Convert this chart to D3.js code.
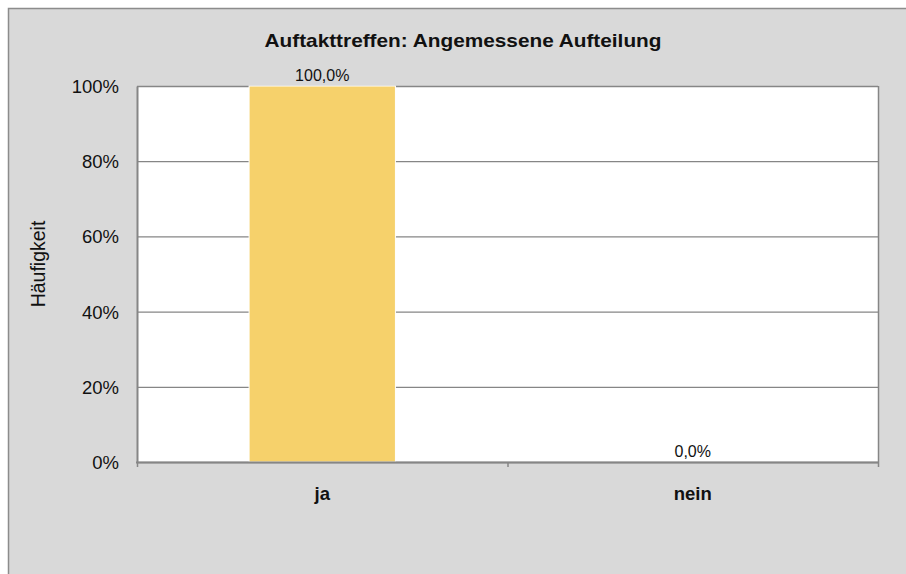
<!DOCTYPE html>
<html>
<head>
<meta charset="utf-8">
<script src="https://cdn.jsdelivr.net/npm/d3@7"></script>
<style>
  body { margin: 0; background: #fff; }
  svg { display: block; font-family: "Liberation Sans", Arial, sans-serif; }
</style>
</head>
<body>
<svg id="chart" width="906" height="574"></svg>
<script>
var title = "Auftakttreffen: Angemessene Aufteilung"
var yTitle = "Häufigkeit"
var categories = ["ja", "nein"]
var values = [100, 0]
var yTicks = [0, 20, 40, 60, 80, 100]

var svg = d3.select("#chart")
var plot = {left: 137, right: 878, top: 86, bottom: 462}

// outer chart area (runs off the right and bottom edge)
svg.append("rect")
  .attr("x", 8.5).attr("y", 8.5)
  .attr("width", 910).attr("height", 580)
  .attr("fill", "#d9d9d9")
  .attr("stroke", "#8c8c8c")
  .attr("stroke-width", 1.5)

svg.append("rect")
  .attr("x", plot.left).attr("y", plot.top)
  .attr("width", plot.right - plot.left).attr("height", plot.bottom - plot.top)
  .attr("fill", "#fff")

var x = d3.scaleBand()
  .domain(categories)
  .range([plot.left, plot.right])
  .paddingInner(0.605)
  .paddingOuter(0.3025)

var y = d3.scaleLinear()
  .domain([0, 100])
  .range([plot.bottom, plot.top])

// gridlines
svg.append("g")
  .selectAll("line")
  .data(yTicks)
  .enter().append("line")
    .attr("x1", plot.left).attr("x2", plot.right)
    .attr("y1", function(d) { return y(d) + 0.5 })
    .attr("y2", function(d) { return y(d) + 0.5 })
    .attr("stroke", "#868686")
    .attr("stroke-width", 1.3)

// right border
svg.append("line")
  .attr("x1", plot.right + 0.5).attr("x2", plot.right + 0.5)
  .attr("y1", plot.top).attr("y2", plot.bottom)
  .attr("stroke", "#868686").attr("stroke-width", 1.5)

// bars
svg.append("g")
  .selectAll("rect")
  .data(values)
  .enter().append("rect")
    .attr("x", function(d, i) { return x(categories[i]) })
    .attr("y", function(d) { return y(d) })
    .attr("width", x.bandwidth())
    .attr("height", function(d) { return y(0) - y(d) })
    .attr("fill", "#f6d16b")
    .attr("stroke", "#fff")
    .attr("stroke-width", function(d) { return d > 0 ? 1 : 0 })

// data labels
svg.append("g")
  .selectAll("text")
  .data(values)
  .enter().append("text")
    .attr("x", function(d, i) { return x(categories[i]) + x.bandwidth() / 2 })
    .attr("y", function(d) { return y(d) - 5 })
    .attr("text-anchor", "middle")
    .attr("font-size", 16)
    .attr("fill", "#111")
    .text(function(d) { return d3.format(".1f")(d).replace(".", ",") + "%" })

// y axis
var yAxis = svg.append("g")
  .attr("transform", "translate(" + plot.left + ",0)")
  .call(d3.axisLeft(y).tickValues(yTicks).tickSize(0).tickPadding(18)
    .tickFormat(function(d) { return d + "%" }))
yAxis.select(".domain").attr("stroke", "#868686").attr("stroke-width", 2)
yAxis.selectAll("text").attr("font-size", 18.5).attr("fill", "#111")
  .attr("font-family", "Liberation Sans, Arial, sans-serif").attr("dy", "0.35em")

// x axis
var xAxis = svg.append("g")
  .attr("transform", "translate(0," + plot.bottom + ")")
  .call(d3.axisBottom(x).tickSize(0).tickPadding(25))
xAxis.select(".domain").remove()
xAxis.selectAll("text").attr("font-size", 18.5).attr("font-weight", "bold")
  .attr("fill", "#111").attr("font-family", "Liberation Sans, Arial, sans-serif")

svg.append("line")
  .attr("x1", plot.left - 1).attr("x2", plot.right + 1)
  .attr("y1", plot.bottom + 0.5).attr("y2", plot.bottom + 0.5)
  .attr("stroke", "#868686").attr("stroke-width", 2)

// category separator ticks
var sep = [plot.left, (plot.left + plot.right) / 2, plot.right]
svg.append("g")
  .selectAll("line")
  .data(sep)
  .enter().append("line")
    .attr("x1", function(d) { return d + 0.5 }).attr("x2", function(d) { return d + 0.5 })
    .attr("y1", plot.bottom).attr("y2", plot.bottom + 5)
    .attr("stroke", "#868686").attr("stroke-width", 1.5)

// titles
svg.append("text")
  .attr("x", 463).attr("y", 47)
  .attr("text-anchor", "middle")
  .attr("font-size", 19).attr("font-weight", "bold")
  .attr("textLength", 397).attr("lengthAdjust", "spacingAndGlyphs")
  .attr("fill", "#111")
  .text(title)

svg.append("text")
  .attr("transform", "translate(45,264) rotate(-90)")
  .attr("text-anchor", "middle")
  .attr("font-size", 19.5)
  .attr("fill", "#111")
  .text(yTitle)
</script>
</body>
</html>
